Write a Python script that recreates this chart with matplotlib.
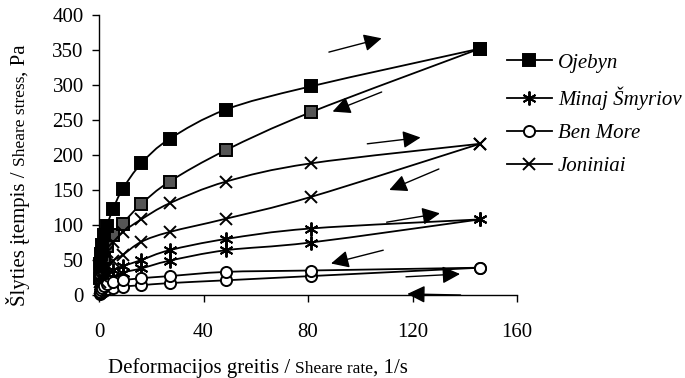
import numpy as np
import matplotlib
matplotlib.use("Agg")
import matplotlib.pyplot as plt
from matplotlib.path import Path
from matplotlib.patches import PathPatch
from matplotlib.lines import Line2D

plt.rcParams['font.family'] = ['Liberation Serif', 'DejaVu Serif']

# ---- data ----
shear_rate = [0.333, 0.6, 1.0, 1.8, 3.0, 5.4, 9.0, 16.2, 27.0, 48.6, 81.0, 145.8]
ojebyn_up = [45, 58, 72, 86, 99, 123, 151, 188, 223, 265, 298, 352]
ojebyn_down = [25, 32, 42, 55, 70, 86, 102, 130, 162, 207, 261, 352]
minaj_up = [9, 13, 18, 24, 30, 36, 41, 50, 64, 80, 95, 108]
minaj_down = [5, 8, 11, 15, 20, 26, 32, 38, 49, 64, 75, 108]
benmore_up = [4, 7, 10, 13, 16, 19, 21, 24, 27, 33, 35, 39]
benmore_down = [2, 3, 4, 6, 8, 10, 12, 14, 17, 21, 27, 39]
joniniai_up = [18, 27, 38, 50, 62, 76, 90, 108, 131, 162, 188, 216]
joniniai_down = [10, 15, 22, 30, 39, 49, 57, 76, 90, 109, 140, 216]

series_names = ["Ojebyn", "Minaj Šmyriov", "Ben More", "Joniniai"]

x_ticks = [0, 40, 80, 120, 160]
y_ticks = [0, 50, 100, 150, 200, 250, 300, 350, 400]

# direction arrows (tail -> head), data units
arrow_tail_x = [88, 108.2, 102.7, 130.1, 110.1, 108.8, 117.5, 138.4]
arrow_tail_y = [347, 290, 216, 180, 104, 64, 26, 0]
arrow_head_x = [108.2, 89.4, 123.1, 111.1, 130.5, 88.8, 138.2, 118]
arrow_head_y = [366.7, 262, 225, 150, 116.7, 45, 30, 1.5]

W, H = 685, 378
fig = plt.figure(figsize=(W / 100, H / 100), dpi=100)
ax = fig.add_axes([99 / W, 1 - 295 / H, (517 - 99) / W, (295 - 15) / H])
ax.set_xlim(0, 160)
ax.set_ylim(0, 400)
for s in ['top', 'right']:
    ax.spines[s].set_visible(False)
for s in ['left', 'bottom']:
    ax.spines[s].set_linewidth(1.0)
ax.set_xticks(x_ticks)
ax.set_yticks(y_ticks)
ax.tick_params(axis='both', direction='out', length=5, width=1, labelsize=15)
ax.tick_params(axis='x', pad=15)
ax.tick_params(axis='y', pad=6)


def smooth_path(xs, ys):
    pts = np.column_stack([xs, ys]).astype(float)
    n = len(pts)
    verts = [pts[0]]
    codes = [Path.MOVETO]
    for i in range(n - 1):
        p0 = pts[max(i - 1, 0)]
        p1 = pts[i]
        p2 = pts[i + 1]
        p3 = pts[min(i + 2, n - 1)]
        c1 = p1 + (p2 - p0) / 6.0
        c2 = p2 - (p3 - p1) / 6.0
        verts += [c1, c2, p2]
        codes += [Path.CURVE4] * 3
    return Path(verts, codes)


LW = 1.3
def draw_curve(ys):
    patch = PathPatch(smooth_path(shear_rate, ys), fill=False, edgecolor='black',
                      lw=LW, transform=ax.transData, clip_on=False, zorder=2)
    ax.add_patch(patch)


styles = [
    (ojebyn_up, ojebyn_down, dict(marker='s', ms=8, mfc='black', mec='black'),
     dict(marker='s', ms=8, mfc='#555555', mec='black')),
    (minaj_up, minaj_down, dict(marker=(6, 2, 0), ms=10, mfc='black', mec='black'),
     dict(marker=(6, 2, 0), ms=10, mfc='black', mec='black')),
    (benmore_up, benmore_down, dict(marker='o', ms=8, mfc='white', mec='black'),
     dict(marker='o', ms=8, mfc='white', mec='black')),
    (joniniai_up, joniniai_down, dict(marker='x', ms=9, mfc='black', mec='black'),
     dict(marker='x', ms=9, mfc='black', mec='black')),
]

handles = []
for (up, down, mk_up, mk_down), name in zip(styles, series_names):
    draw_curve(up)
    draw_curve(down)
    ax.plot(shear_rate, down, ls='none', mew=1.4, clip_on=False, zorder=3, **mk_down)
    ax.plot(shear_rate, up, ls='none', mew=1.4, clip_on=False, zorder=4, **mk_up)
    handles.append(Line2D([], [], color='black', lw=LW, mew=1.4, **mk_up))

for tx, ty, hx, hy in zip(arrow_tail_x, arrow_tail_y, arrow_head_x, arrow_head_y):
    ax.annotate('', xy=(hx, hy), xytext=(tx, ty), annotation_clip=False,
                arrowprops=dict(arrowstyle='-|>,head_length=0.45,head_width=0.22',
                                mutation_scale=24, color='black', lw=1.0,
                                shrinkA=0, shrinkB=0), zorder=5)

fig.legend(handles, series_names, loc='upper left',
           bbox_to_anchor=(507 / W, 1 - 53 / H), frameon=False,
           prop=dict(family='Liberation Serif', style='italic', size=15),
           handlelength=2.15, handletextpad=0.3, labelspacing=0.66, borderpad=0,
           borderaxespad=0)

# ---- axis labels with mixed font sizes ----
renderer = fig.canvas.get_renderer()


def measure(s, size, rot=0):
    t = fig.text(0, 0, s, fontsize=size, rotation=rot)
    bb = t.get_window_extent(renderer)
    t.remove()
    return bb.height if rot else bb.width


xl_pieces = [("Deformacijos greitis /", 15, 5), ("Sheare rate", 12.5, 0), (", 1/s", 15, 0)]
xp = 108
for s, size, gap in xl_pieces:
    fig.text(xp / W, 1 - 373 / H, s, fontsize=size, ha='left', va='baseline')
    xp += measure(s, size) + gap

yl_pieces = [("Šlyties įtempis /", 15, 5), ("Sheare stress", 12.5, 0), (", Pa", 15, 0)]
total = sum(measure(s, size, 90) + gap for s, size, gap in yl_pieces)
yp = 175 + total / 2  # pixels from top, start at bottom
for s, size, gap in yl_pieces:
    fig.text(25 / W, 1 - yp / H, s, fontsize=size, rotation=90,
             rotation_mode='anchor', ha='left', va='baseline')
    yp -= measure(s, size, 90) + gap

fig.savefig('out.png', dpi=100)
